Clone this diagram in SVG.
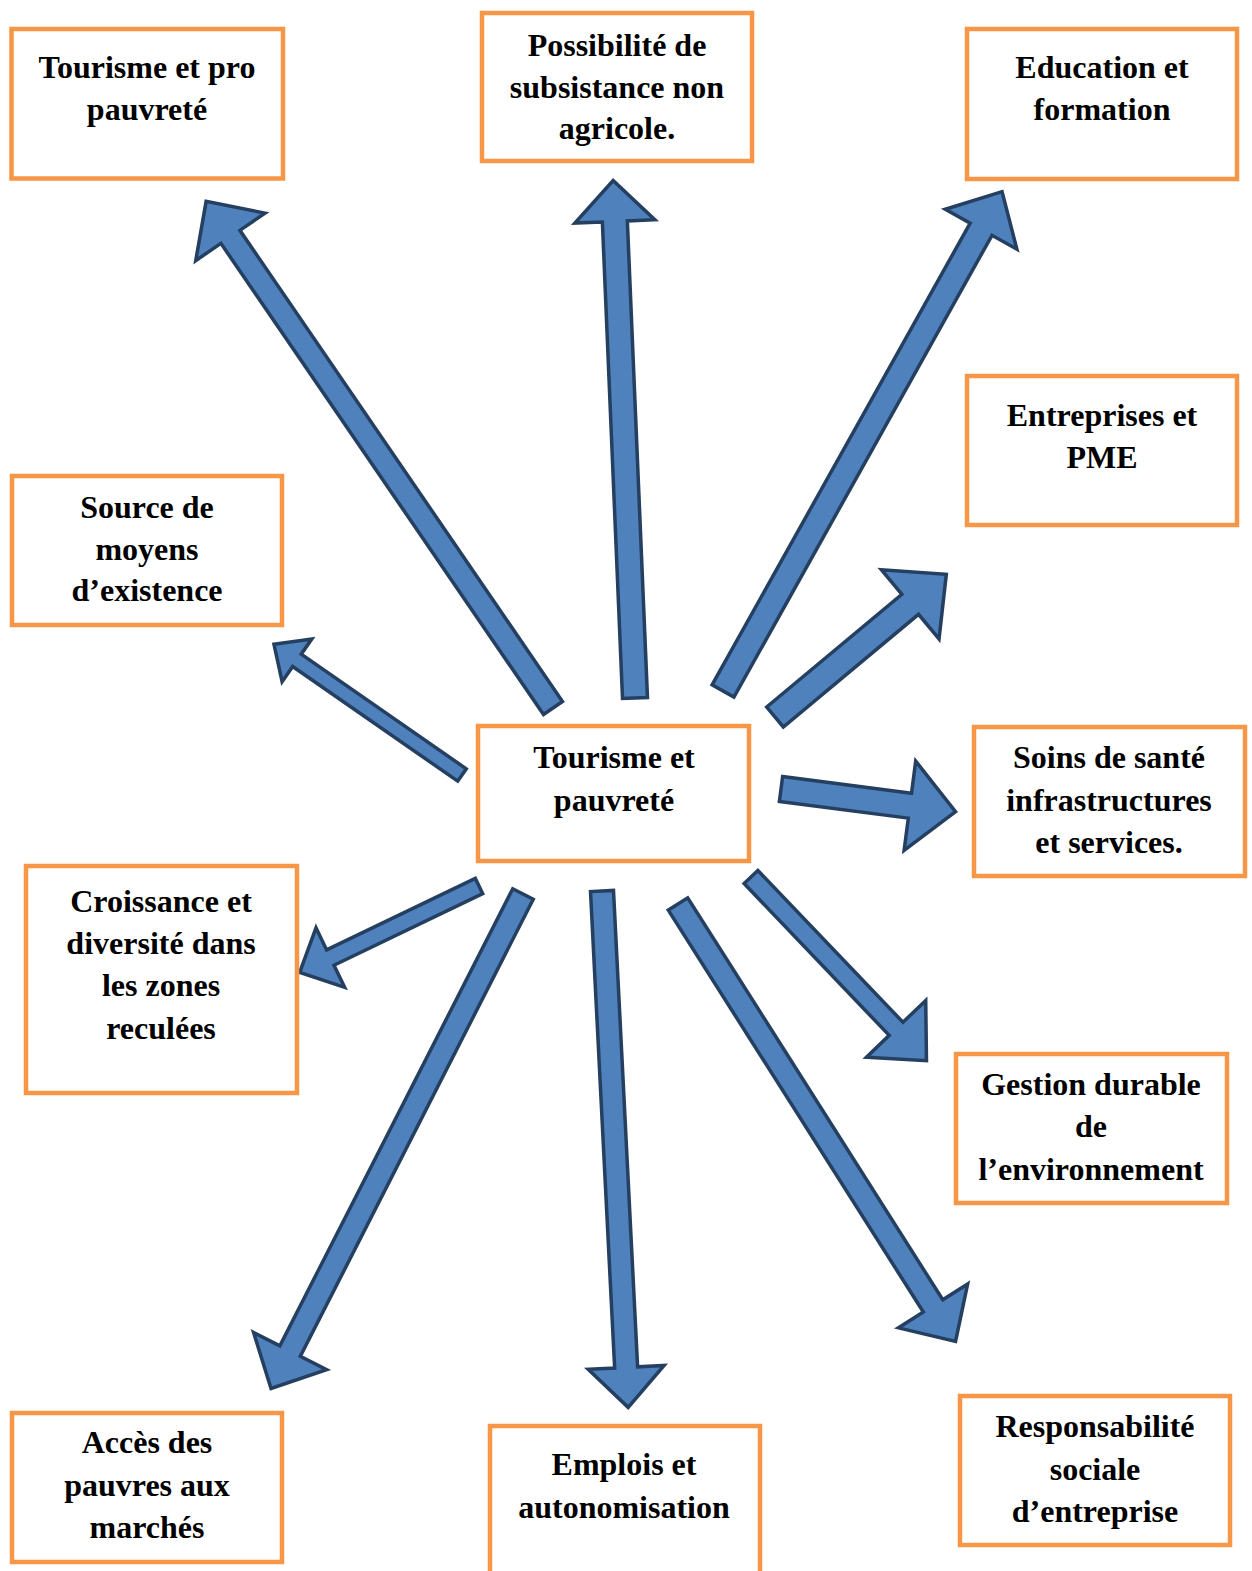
<svg xmlns="http://www.w3.org/2000/svg" width="1252" height="1571" viewBox="0 0 1252 1571">
<style>
.box{fill:#fff;stroke:#F79646;stroke-width:4.5}
.t{font-family:"Liberation Serif","Times New Roman",serif;font-weight:bold;font-size:32px;fill:#000;text-anchor:middle}
.arr{fill:#4F81BD;stroke:#243F60;stroke-width:3.5;stroke-linejoin:miter}
</style>
<rect width="1252" height="1571" fill="#fff"/>
<g id="connectors">
<polygon class="arr" transform="translate(553,708) rotate(-124.4)" points="0,-11.5 571,-11.5 571,-42 614,0 571,42 571,11.5 0,11.5"/>
<polygon class="arr" transform="translate(635,698) rotate(-92.42)" points="0,-12.5 477,-12.5 477,-40 518,0 477,40 477,12.5 0,12.5"/>
<polygon class="arr" transform="translate(723,691) rotate(-60.8)" points="0,-12.5 529,-12.5 529,-41 572,0 529,41 529,12.5 0,12.5"/>
<polygon class="arr" transform="translate(775,717) rotate(-39.8)" points="0,-13 176,-13 176,-45 223,0 176,45 176,13 0,13"/>
<polygon class="arr" transform="translate(462,775) rotate(-145.2)" points="0,-7.5 201,-7.5 201,-26 229,0 201,26 201,7.5 0,7.5"/>
<polygon class="arr" transform="translate(781,789) rotate(7.4)" points="0,-12.5 130,-12.5 130,-45 176,0 130,45 130,12.5 0,12.5"/>
<polygon class="arr" transform="translate(751,877) rotate(46.3)" points="0,-9.5 210,-9.5 210,-41 254,0 210,41 210,9.5 0,9.5"/>
<polygon class="arr" transform="translate(678,904) rotate(57.6)" points="0,-11.5 476,-11.5 476,-41 518,0 476,41 476,11.5 0,11.5"/>
<polygon class="arr" transform="translate(602,891) rotate(87.1)" points="0,-11.5 477,-11.5 477,-38 517,0 477,38 477,11.5 0,11.5"/>
<polygon class="arr" transform="translate(523,894) rotate(117)" points="0,-11.5 513,-11.5 513,-41 555,0 513,41 513,11.5 0,11.5"/>
<polygon class="arr" transform="translate(479,886) rotate(154.3)" points="0,-8.5 165,-8.5 165,-33 199,0 165,33 165,8.5 0,8.5"/>
</g>
<g id="n1"><rect class="box" x="11.5" y="29" width="271.5" height="149.5"/><text class="t" x="147" y="78">Tourisme et pro</text><text class="t" x="147" y="120">pauvreté</text></g>
<g id="n2"><rect class="box" x="482" y="13" width="270" height="148"/><text class="t" x="617" y="56">Possibilité de</text><text class="t" x="617" y="98">subsistance non</text><text class="t" x="617" y="139">agricole.</text></g>
<g id="n3"><rect class="box" x="967" y="29" width="270" height="150"/><text class="t" x="1102" y="78">Education et</text><text class="t" x="1102" y="120">formation</text></g>
<g id="n4"><rect class="box" x="967" y="376" width="270" height="149"/><text class="t" x="1102" y="426">Entreprises et</text><text class="t" x="1102" y="468">PME</text></g>
<g id="n5"><rect class="box" x="12" y="476" width="270" height="149"/><text class="t" x="147" y="518">Source de</text><text class="t" x="147" y="560">moyens</text><text class="t" x="147" y="601">d’existence</text></g>
<g id="center"><rect class="box" x="478" y="726" width="271" height="135"/><text class="t" x="614" y="768">Tourisme et</text><text class="t" x="614" y="811">pauvreté</text></g>
<g id="n6"><rect class="box" x="974" y="727" width="271" height="149"/><text class="t" x="1109" y="768">Soins de santé</text><text class="t" x="1109" y="811">infrastructures</text><text class="t" x="1109" y="853">et services.</text></g>
<g id="n7"><rect class="box" x="26" y="866" width="271" height="227"/><text class="t" x="161" y="912">Croissance et</text><text class="t" x="161" y="954">diversité dans</text><text class="t" x="161" y="996">les zones</text><text class="t" x="161" y="1039">reculées</text></g>
<g id="n8"><rect class="box" x="956" y="1054" width="271" height="149"/><text class="t" x="1091" y="1095">Gestion durable</text><text class="t" x="1091" y="1137">de</text><text class="t" x="1091" y="1180">l’environnement</text></g>
<g id="n9"><rect class="box" x="12" y="1413" width="270" height="149"/><text class="t" x="147" y="1453">Accès des</text><text class="t" x="147" y="1496">pauvres aux</text><text class="t" x="147" y="1538">marchés</text></g>
<g id="n10"><rect class="box" x="490" y="1426" width="270" height="160"/><text class="t" x="624" y="1475">Emplois et</text><text class="t" x="624" y="1518">autonomisation</text></g>
<g id="n11"><rect class="box" x="960" y="1396" width="270" height="149"/><text class="t" x="1095" y="1437">Responsabilité</text><text class="t" x="1095" y="1480">sociale</text><text class="t" x="1095" y="1522">d’entreprise</text></g>
</svg>
